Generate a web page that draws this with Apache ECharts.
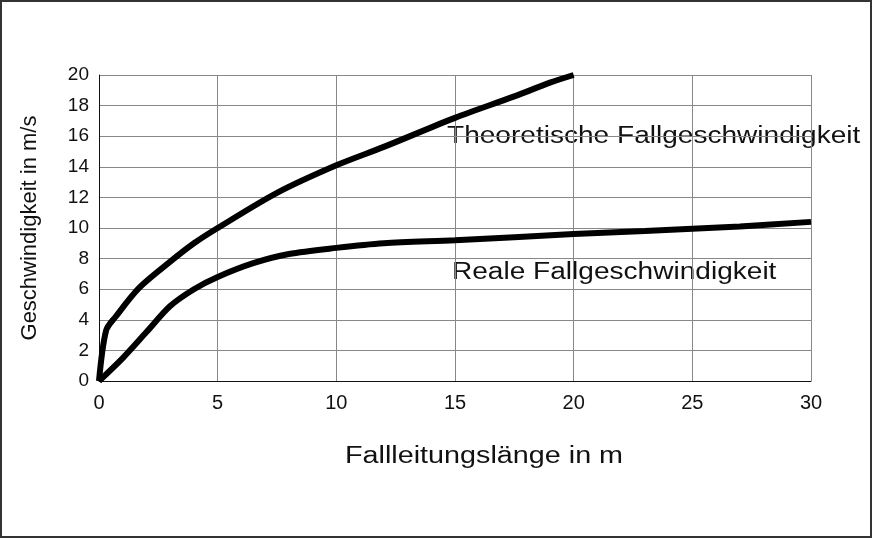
<!DOCTYPE html><html><head><meta charset="utf-8">
<script src="https://cdn.jsdelivr.net/npm/echarts@6/dist/echarts.min.js"></script>
<style>html,body{margin:0;padding:0;background:#fff}#c{width:872px;height:538px;box-sizing:border-box;border:2px solid #333}</style>
</head><body><div id="c"></div><script>
const theoX=[0,0.3,0.7,1.7,3,4,5,7.5,10,12,15,17.5,19,20];
const theoY=[0,3.3,4.2,6.1,7.8,9,10,12.3,14.1,15.3,17.2,18.6,19.5,20];
const realX=[0,1,2,3,4,5,6.5,8,10,12,15,20,23,27,30];
const realY=[0,1.5,3.2,4.9,6,6.8,7.7,8.3,8.7,9,9.2,9.6,9.8,10.1,10.4];
const xTitle='Fallleitungslänge in m', yTitle='Geschwindigkeit in m/s';
const zip=(a,b)=>a.map((v,i)=>[v,b[i]]);
const ch=echarts.init(document.getElementById('c'));
const F='Liberation Sans, Arial, sans-serif';
ch.setOption({animation:false,
grid:{left:97,right:59,top:73,bottom:155},
xAxis:{type:'value',min:0,max:30,interval:5,
 axisLine:{lineStyle:{color:'#111',width:1}},axisTick:{show:false},
 axisLabel:{fontFamily:F,fontSize:20,color:'#111',margin:12},splitLine:{lineStyle:{color:'#888'}}},
yAxis:{type:'value',min:0,max:20,interval:2,name:yTitle,nameLocation:'middle',nameGap:58,
 nameTextStyle:{fontFamily:F,fontSize:22,color:'#111'},
 axisLine:{show:true,lineStyle:{color:'#111',width:1}},axisTick:{show:false},
 axisLabel:{fontFamily:F,fontSize:19,color:'#111',margin:10},splitLine:{lineStyle:{color:'#888'}}},
series:[
 {type:'line',data:zip(theoX,theoY),smooth:0.3,showSymbol:false,lineStyle:{color:'#000',width:6}},
 {type:'line',data:zip(realX,realY),smooth:0.3,showSymbol:false,lineStyle:{color:'#000',width:6}}],
graphic:[
 {type:'text',x:445,y:123,scaleX:1.22,style:{text:'Theoretische Fallgeschwindigkeit',font:'23px '+F,fill:'#111'}},
 {type:'text',x:450,y:259,scaleX:1.22,style:{text:'Reale Fallgeschwindigkeit',font:'23px '+F,fill:'#111'}},
 {type:'text',x:343,y:443,scaleX:1.25,style:{text:xTitle,font:'23px '+F,fill:'#111'}}]
});
</script></body></html>
